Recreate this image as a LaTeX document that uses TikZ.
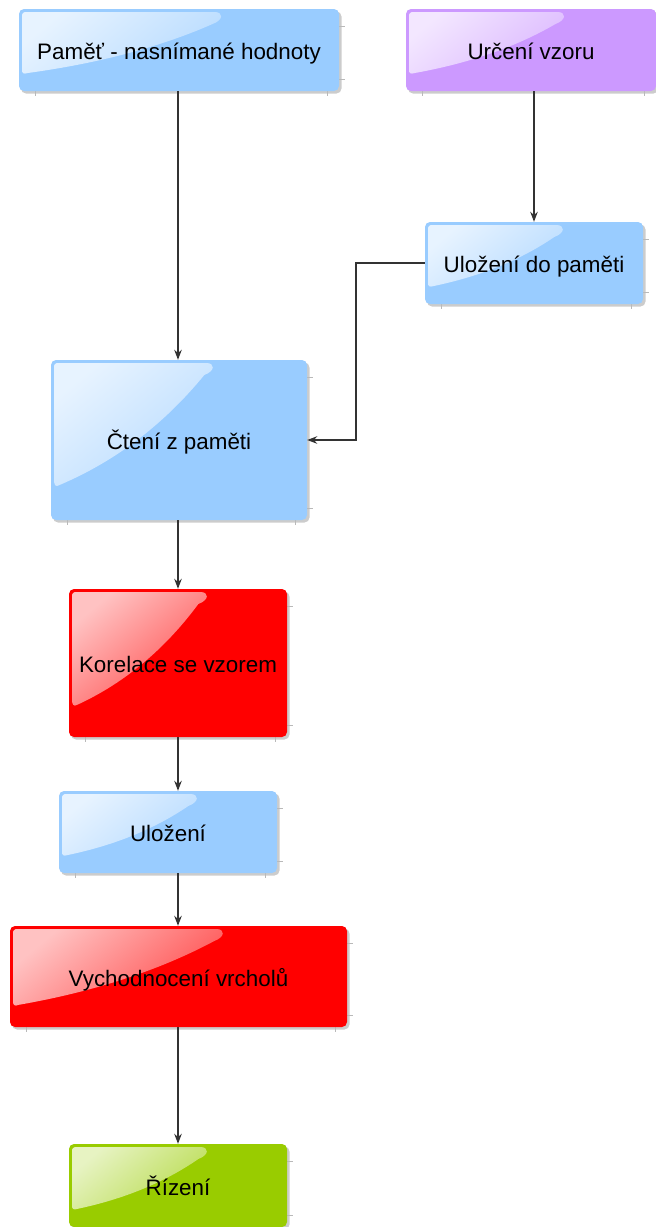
\documentclass[tikz,border=0pt]{standalone}
\usepackage{fontspec}
\setmainfont{Liberation Sans}
\usetikzlibrary{arrows.meta,calc}
\definecolor{cblue}{HTML}{99CCFF}
\definecolor{cpurple}{HTML}{CC99FF}
\definecolor{cred}{HTML}{FF0000}
\definecolor{cgreen}{HTML}{99CC00}
\tikzset{
  boxnode/.style={draw=none, rounded corners=5pt, inner sep=0pt, text=black},
  boxtext/.style={font=\fontsize{22.4}{27}\selectfont, text=black, inner sep=0pt, anchor=base},
  conn/.style={draw=black!80, line width=1.2pt, -{Stealth[length=10pt,width=7.5pt]}},
  tick/.style={draw=gray!55, line width=0.6pt},
  shadowbox/.style={fill=black, opacity=0.2, rounded corners=5pt}
}
\newcommand\gbox[7]{%
  \pgfmathsetmacro\bxA{#2}\pgfmathsetmacro\byA{#3}%
  \pgfmathsetmacro\bxB{#4}\pgfmathsetmacro\byB{#5}%
  \pgfmathsetmacro\bW{\bxB-\bxA}\pgfmathsetmacro\bH{\byB-\byA}%
  \pgfmathsetmacro\bxE{\bxA+0.63*\bW}%
  \pgfmathsetmacro\bPx{\bxE-8}\pgfmathsetmacro\bPy{\byA+15}%
  \pgfmathsetmacro\bQx{\bxA+9}\pgfmathsetmacro\bQy{\byA+0.78*\bH}%
  \pgfmathsetmacro\bCax{\bPx+(\bQx-\bPx)/3+0.03*\bW}%
  \pgfmathsetmacro\bCay{\bPy+(\bQy-\bPy)/3+0.08*\bH}%
  \pgfmathsetmacro\bCbx{\bPx+2*(\bQx-\bPx)/3+0.03*\bW}%
  \pgfmathsetmacro\bCby{\bPy+2*(\bQy-\bPy)/3+0.08*\bH}%
  \fill[shadowbox] (\bxA+2,\byA+2.5) rectangle (\bxB+2.5,\byB+2.5);
  \draw[tick] (\bxB,\byA+17) -- (\bxB+6,\byA+17);
  \draw[tick] (\bxB,\byB-12) -- (\bxB+6,\byB-12);
  \draw[tick] (\bxA+16,\byB) -- (\bxA+16,\byB+5);
  \draw[tick] (\bxB-12,\byB) -- (\bxB-12,\byB+5);
  \node[boxnode, fill=#6, minimum width=\bW pt, minimum height=\bH pt]
    (#1) at ({(\bxA+\bxB)/2},{(\byA+\byB)/2}) {};
  \shade[top color=white!76!#6, bottom color=white!30!#6, shading angle=40]
    (\bxA+3,\byA+8) .. controls (\bxA+3,\byA+4) and (\bxA+4,\byA+3) .. (\bxA+8,\byA+3)
    -- (\bxE-6,\byA+3) .. controls (\bxE+3,\byA+3) and (\bxE+3,\byA+11) .. (\bPx,\bPy)
    .. controls (\bCax,\bCay) and (\bCbx,\bCby) .. (\bQx,\bQy)
    .. controls ({\bxA+4},{\byA+0.80*\bH}) and ({\bxA+3},{\byA+0.78*\bH}) ..
       ({\bxA+3},{\byA+0.74*\bH}) -- cycle;
  \node[boxtext] at ([yshift=-9.5pt]#1.center) {#7};
}
\begin{document}
\begin{tikzpicture}[x=1pt,y=-1pt]
\useasboundingbox (0,0) rectangle (656,1227);
\fill[white] (0,0) rectangle (656,1227);
\gbox{pamet}{19}{9}{339}{91}{cblue}{Paměť - nasnímané hodnoty}
\gbox{urceni}{406}{9}{656}{91}{cpurple}{Určení vzoru}
\gbox{ulozpam}{425}{222}{643}{304}{cblue}{Uložení do paměti}
\gbox{cteni}{51}{360}{307}{520}{cblue}{Čtení z paměti}
\gbox{korel}{69}{589}{287}{737}{cred}{Korelace se vzorem}
\gbox{uloz}{59}{791}{277}{873}{cblue}{Uložení}
\gbox{vych}{10}{926}{347}{1027}{cred}{Vychodnocení vrcholů}
\gbox{rizeni}{69}{1144}{287}{1227}{cgreen}{Řízení}
\coordinate (ax) at (178,0);
\coordinate (bx) at (534,0);
\coordinate (k1) at (356,263);
\coordinate (k2) at (356,440);
\draw[conn] (ax |- pamet.south) -- (ax |- cteni.north);
\draw[conn] (bx |- urceni.south) -- (bx |- ulozpam.north);
\draw[conn] (ulozpam.west) -- (k1) -- (k2) -- (cteni.east);
\draw[conn] (ax |- cteni.south) -- (ax |- korel.north);
\draw[conn] (ax |- korel.south) -- (ax |- uloz.north);
\draw[conn] (ax |- uloz.south) -- (ax |- vych.north);
\draw[conn] (ax |- vych.south) -- (ax |- rizeni.north);
\end{tikzpicture}
\end{document}
